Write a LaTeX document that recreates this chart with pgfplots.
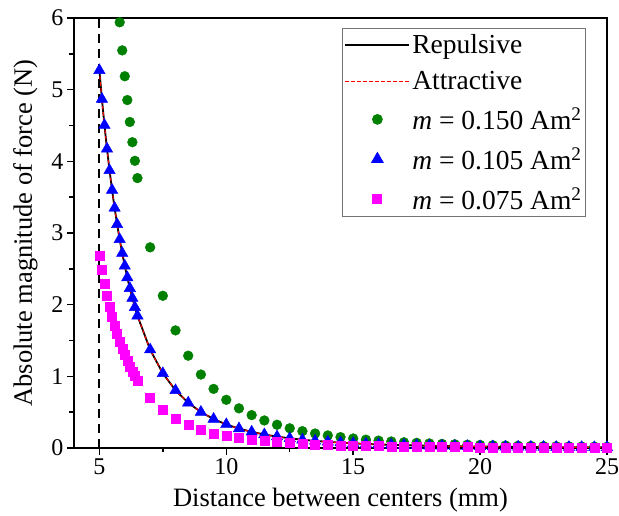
\documentclass[border=0pt]{standalone}
\usepackage{fontspec}
\setmainfont{Liberation Serif}
\usepackage{pgfplots}
\usepackage{pgfplotstable}
\pgfplotsset{compat=1.18}
\definecolor{ogreen}{RGB}{0,128,0}
\definecolor{oblue}{RGB}{0,0,255}
\definecolor{omag}{RGB}{255,0,255}
\pgfplotstableread{
x y
5.0 5.270
5.1 4.869
5.2 4.505
5.3 4.174
5.4 3.874
5.5 3.599
5.6 3.349
5.7 3.120
5.8 2.911
5.9 2.718
6.0 2.541
6.1 2.379
6.2 2.229
6.3 2.091
6.4 1.963
6.5 1.845
7.0 1.372
7.5 1.041
8.0 0.804
8.5 0.631
9.0 0.502
9.5 0.404
10.0 0.329
10.5 0.271
11.0 0.225
11.5 0.188
12.0 0.159
12.5 0.135
13.0 0.115
13.5 0.099
14.0 0.086
14.5 0.075
15.0 0.065
15.5 0.057
16.0 0.050
16.5 0.044
17.0 0.039
17.5 0.035
18.0 0.031
18.5 0.028
19.0 0.025
19.5 0.023
20.0 0.021
20.5 0.019
21.0 0.017
21.5 0.015
22.0 0.014
22.5 0.013
23.0 0.012
23.5 0.011
24.0 0.010
24.5 0.009
25.0 0.008
}\tblblue
\pgfplotstableread{
x y
5.8 5.940
5.9 5.548
6.0 5.187
6.1 4.855
6.2 4.549
6.3 4.267
6.4 4.007
6.5 3.766
7.0 2.800
7.5 2.124
8.0 1.641
8.5 1.288
9.0 1.025
9.5 0.825
10.0 0.672
10.5 0.553
11.0 0.459
11.5 0.384
12.0 0.324
12.5 0.275
13.0 0.235
13.5 0.202
14.0 0.175
14.5 0.152
15.0 0.133
15.5 0.116
16.0 0.103
16.5 0.091
17.0 0.080
17.5 0.072
18.0 0.064
18.5 0.057
19.0 0.052
19.5 0.046
20.0 0.042
20.5 0.038
21.0 0.035
21.5 0.031
22.0 0.029
22.5 0.026
23.0 0.024
23.5 0.022
24.0 0.020
24.5 0.019
25.0 0.017
}\tblgreen
\pgfplotstableread{
x y
5.0 2.689
5.1 2.484
5.2 2.298
5.3 2.130
5.4 1.976
5.5 1.836
5.6 1.709
5.7 1.592
5.8 1.485
5.9 1.387
6.0 1.297
6.1 1.214
6.2 1.137
6.3 1.067
6.4 1.002
6.5 0.941
7.0 0.700
7.5 0.531
8.0 0.410
8.5 0.322
9.0 0.256
9.5 0.206
10.0 0.168
10.5 0.138
11.0 0.115
11.5 0.096
12.0 0.081
12.5 0.069
13.0 0.059
13.5 0.051
14.0 0.044
14.5 0.038
15.0 0.033
15.5 0.029
16.0 0.026
16.5 0.023
17.0 0.020
17.5 0.018
18.0 0.016
18.5 0.014
19.0 0.013
19.5 0.012
20.0 0.011
20.5 0.010
21.0 0.009
21.5 0.008
22.0 0.007
22.5 0.007
23.0 0.006
23.5 0.006
24.0 0.005
24.5 0.005
25.0 0.004
}\tblmagenta
\begin{document}
\begin{tikzpicture}
\useasboundingbox (-74pt,-68pt) rectangle (545pt,448pt);
\begin{axis}[
  at={(0,0)}, anchor=south west,
  scale only axis, width=533pt, height=430pt,
  xmin=4, xmax=25, ymin=0, ymax=6,
  xtick={5,10,15,20,25}, ytick={0,1,2,3,4,5,6},
  minor x tick num=1, minor y tick num=1,
  tick align=outside, tick pos=left,
  axis line style={line width=1.8pt},
  major tick length=7pt, minor tick length=4.5pt,
  tick style={black, line width=1.5pt},
  /pgf/number format/assume math mode=true,
  ticklabel style={font=\fontsize{24}{28}\selectfont},
  label style={font=\fontsize{26.5}{30}\selectfont},
  xlabel style={yshift=-7pt},
  ylabel style={yshift=7pt},
  xlabel={Distance between centers (mm)},
  ylabel={Absolute magnitude of force (N)},
  legend cell align=left,
  legend style={at={(rel axis cs:0.9606,0.9767)}, anchor=north east,
    draw=black!55, line width=0.9pt, font=\fontsize{27.5}{30}\selectfont,
    row sep=12.5pt, inner xsep=2pt, inner ysep=4pt},
  legend image code/.code={\draw[mark repeat=2,mark phase=2] plot coordinates {(0pt,0pt) (32pt,0pt) (64pt,0pt)};},
]
\addplot[draw=black, line width=1.8pt, dash pattern=on 9pt off 6pt, forget plot] coordinates {(5,0) (5,6)};
\addplot[draw=black, line width=1.8pt, no marks] table[x=x,y=y] {\tblblue};
\addlegendentry{Repulsive}
\addplot[draw=red, color=red, line width=1.1pt, dash pattern=on 3.5pt off 2.5pt, no marks] table[x=x,y=y] {\tblblue};
\addlegendentry{Attractive}
\addplot[only marks, mark=*, mark size=4.9pt, mark options={fill=ogreen, draw=ogreen}] table[x=x,y=y] {\tblgreen};
\addlegendentry{\textit{m} = 0.150 Am\textsuperscript{2}}
\addplot[only marks, mark=triangle*, mark size=6.6pt, mark options={fill=oblue, draw=oblue}] table[x=x,y=y] {\tblblue};
\addlegendentry{\textit{m} = 0.105 Am\textsuperscript{2}}
\addplot[only marks, mark=square*, mark size=4.5pt, mark options={fill=omag, draw=omag}] table[x=x,y=y] {\tblmagenta};
\addlegendentry{\textit{m} = 0.075 Am\textsuperscript{2}}
\end{axis}
\end{tikzpicture}
\end{document}
